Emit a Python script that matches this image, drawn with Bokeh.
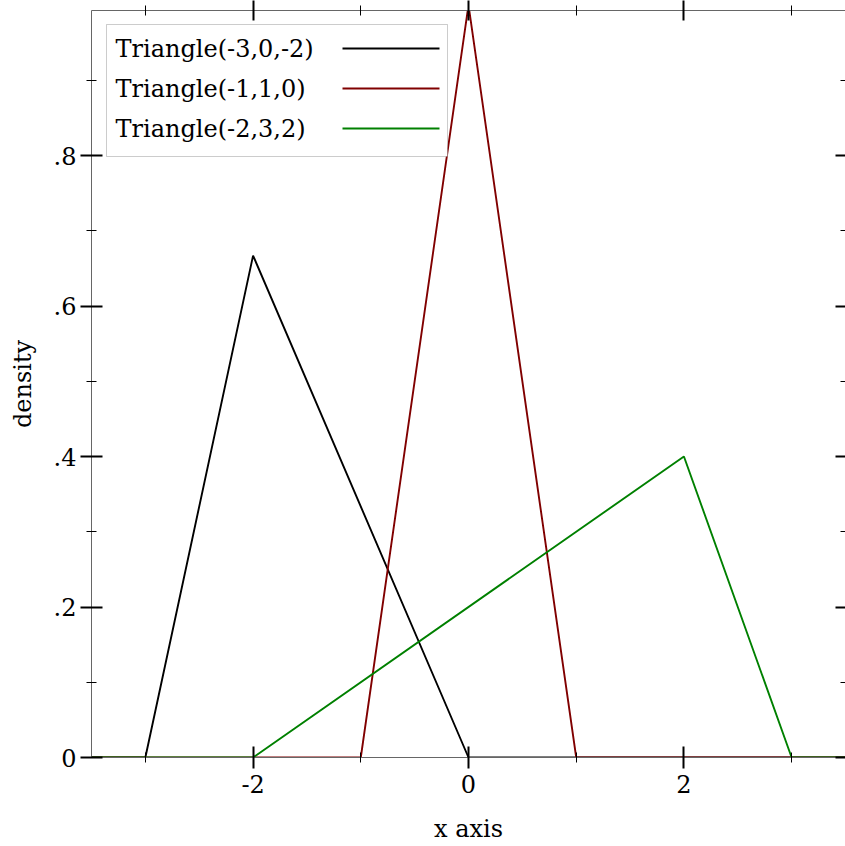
from bokeh.plotting import figure
from bokeh.models import Range1d, LinearAxis, FixedTicker, BoxAnnotation, Label
from bokeh.embed import file_html
from bokeh.resources import INLINE

# ---- data ----
series_names = ["Triangle(-3,0,-2)", "Triangle(-1,1,0)", "Triangle(-2,3,2)"]
series_colors = ["#000000", "#800000", "#008000"]
x_black = [-3.5, -3.0, -2.0, 0.0, 3.5]
y_black = [0.0, 0.0, 0.667, 0.0, 0.0]
x_red = [-3.5, -1.0, 0.0, 1.0, 3.5]
y_red = [0.0, 0.0, 1.0, 0.0, 0.0]
x_green = [-3.5, -2.0, 2.0, 3.0, 3.5]
y_green = [0.0, 0.0, 0.4, 0.0, 0.0]

x_ticks = [-2, 0, 2]
x_tick_labels = ["-2", "0", "2"]
x_minor = [-3, -1, 1, 3]
y_ticks = [0, 0.2, 0.4, 0.6, 0.8]
y_tick_labels = ["0", ".2", ".4", ".6", ".8"]
y_minor = [0.1, 0.3, 0.5, 0.7, 0.9]
x_title = "x axis"
y_title = "density"

X0, X1 = -3.5, 3.5
Y0, Y1 = 0.0, 0.9927

FONT = "DejaVu Serif"
FS = "24px"

W, H = 845, 846
BL, BR, BT, BB = 91, 0, 10, 89
FW, FH = W - BL - BR, H - BT - BB

p = figure(width=W, height=H, output_backend="svg", toolbar_location=None,
           x_range=Range1d(X0, X1), y_range=Range1d(Y0, Y1),
           min_border_left=BL, min_border_right=BR, min_border_top=BT, min_border_bottom=BB,
           background_fill_color="white", border_fill_color="white")
p.outline_line_color = None
p.xgrid.visible = False
p.ygrid.visible = False


def style_axis(ax, ticks, minor, labels, t_in, t_out, m_in, m_out, show_labels, line_color):
    ax.ticker = FixedTicker(ticks=ticks, minor_ticks=minor)
    ax.major_tick_in = t_in
    ax.major_tick_out = t_out
    ax.minor_tick_in = m_in
    ax.minor_tick_out = m_out
    ax.major_tick_line_width = 2
    ax.minor_tick_line_width = 1
    ax.major_tick_line_color = "black"
    ax.minor_tick_line_color = "black"
    ax.axis_line_color = line_color
    ax.axis_line_width = 1
    if show_labels:
        ax.major_label_overrides = {t: l for t, l in zip(ticks, labels)}
        ax.major_label_text_font = FONT
        ax.major_label_text_font_size = FS
        ax.major_label_text_color = "black"
    else:
        ax.major_label_overrides = {t: "" for t in ticks}
        ax.major_label_text_font_size = "0px"
        ax.major_label_standoff = 0


xa = p.xaxis[0]
style_axis(xa, x_ticks, x_minor, x_tick_labels, 11, 11, 5, 5, True, "#666666")
xa.major_label_standoff = 6
xa.axis_label = x_title
xa.axis_label_text_font = FONT
xa.axis_label_text_font_size = FS
xa.axis_label_text_font_style = "normal"
xa.axis_label_text_color = "black"
xa.axis_label_standoff = 19

ya = p.yaxis[0]
style_axis(ya, y_ticks, y_minor, y_tick_labels, 11, 11, 5, 5, True, "#666666")
ya.major_label_standoff = 4
ya.axis_label = y_title
ya.axis_label_text_font = FONT
ya.axis_label_text_font_size = FS
ya.axis_label_text_font_style = "normal"
ya.axis_label_text_color = "black"
ya.axis_label_standoff = 14

top = LinearAxis()
style_axis(top, x_ticks, x_minor, x_tick_labels, 10, 10, 5, 5, False, "#666666")
p.add_layout(top, "above")

right = LinearAxis()
style_axis(right, y_ticks, y_minor, y_tick_labels, 10, 0, 5, 0, False, None)
p.add_layout(right, "right")

xs_all = [x_black, x_red, x_green]
ys_all = [y_black, y_red, y_green]
for xs, ys, c in zip(xs_all, ys_all, series_colors):
    p.line(xs, ys, line_color=c, line_width=1.9)


# ---- helpers: pixel offsets relative to the plot frame -> data units ----
def dx(px):
    return X0 + px * (X1 - X0) / FW


def dy(py):
    return Y1 - py * (Y1 - Y0) / FH


# ---- legend ----
box = BoxAnnotation(left=dx(15), right=dx(356), top=dy(14), bottom=dy(146),
                    fill_color="white", fill_alpha=1.0, line_color="#555555", line_width=1)
p.add_layout(box)
row_py = [38, 78, 118]
for name, c, py in zip(series_names, series_colors, row_py):
    p.add_layout(Label(x=dx(24), y=dy(py), text=name, text_font=FONT, text_font_size=FS,
                       text_color="black", text_baseline="middle", text_align="left"))
    p.segment(x0=[dx(251)], y0=[dy(py)], x1=[dx(348)], y1=[dy(py)], line_color=c, line_width=1.9,
              level="overlay")

open("out.html", "w").write(file_html(p, INLINE))
